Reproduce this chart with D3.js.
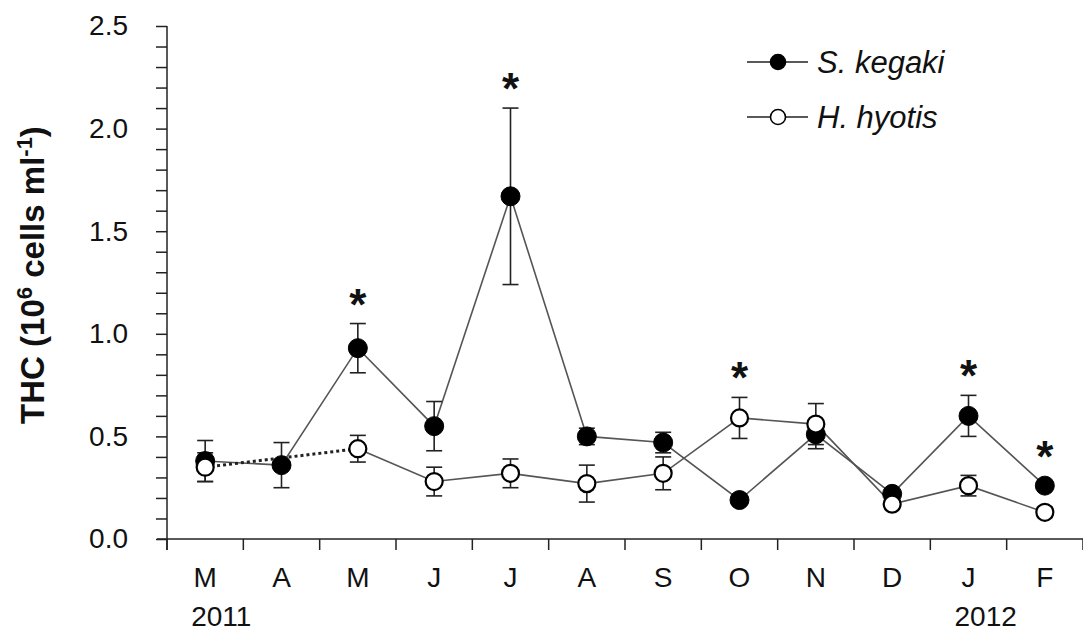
<!DOCTYPE html>
<html>
<head>
<meta charset="utf-8">
<script src="https://cdn.jsdelivr.net/npm/d3@7"></script>
<style>
  body { margin: 0; background: #fff; }
  svg { font-family: "Liberation Sans", Arial, sans-serif; }
</style>
</head>
<body>
<svg width="1083" height="634"></svg>
<script>
const months = ['Mar', 'Apr', 'May', 'Jun', 'Jul', 'Aug', 'Sep', 'Oct', 'Nov', 'Dec', 'Jan', 'Feb'];
const monthLabels = ['M', 'A', 'M', 'J', 'J', 'A', 'S', 'O', 'N', 'D', 'J', 'F'];
const kegaki = [0.38, 0.36, 0.93, 0.55, 1.67, 0.50, 0.47, 0.19, 0.51, 0.22, 0.60, 0.26];
const kegakiErr = [0.10, 0.11, 0.12, 0.12, 0.43, 0.04, 0.05, 0.02, 0.07, 0.02, 0.10, 0.02];
const hyotis = [0.35, null, 0.44, 0.28, 0.32, 0.27, 0.32, 0.59, 0.56, 0.17, 0.26, 0.13];
const hyotisErr = [0.07, null, 0.065, 0.07, 0.07, 0.09, 0.08, 0.10, 0.10, 0.02, 0.05, 0.025];
const significant = [false, false, true, false, true, false, false, true, false, false, true, true];
const years = [{ month: 'Mar', label: '2011' }, { month: 'Jan', label: '2012' }];
const yTicks = d3.range(0, 26).map(d => d / 10);

const svg = d3.select('svg');
const r = 9.5;

const x = d3.scaleBand()
    .domain(months)
    .range([167, 1083]);

const y = d3.scaleLinear()
    .domain([0, 2.5])
    .range([539, 26]);

const cx = i => x(months[i]) + x.bandwidth() / 2;

// axes
const xAxis = svg.append('g')
    .attr('transform', 'translate(0,539)')
    .call(d3.axisBottom(x).tickValues([]).tickSizeOuter(0));
xAxis.selectAll('.tick').remove();
xAxis.append('g').selectAll('line')
    .data(d3.range(months.length + 1))
    .enter().append('line')
    .attr('x1', i => 167 + i * x.bandwidth())
    .attr('x2', i => 167 + i * x.bandwidth())
    .attr('y1', 0).attr('y2', 11)
    .attr('stroke', '#222').attr('stroke-width', 1.5);
xAxis.append('g').selectAll('text')
    .data(months)
    .enter().append('text')
    .attr('x', d => x(d) + x.bandwidth() / 2)
    .attr('y', 48)
    .attr('text-anchor', 'middle')
    .attr('fill', '#111')
    .style('font-size', '28px')
    .text((d, i) => monthLabels[i]);
xAxis.append('g').selectAll('text')
    .data(years)
    .enter().append('text')
    .attr('x', d => x(d.month) + x.bandwidth() / 2 - 14)
    .attr('y', 87)
    .attr('text-anchor', 'start')
    .attr('fill', '#111')
    .style('font-size', '28px')
    .text(d => d.label);
xAxis.select('.domain').attr('stroke', '#222').attr('stroke-width', 1.5)
    .attr('d', 'M157,0H1083');

const yAxis = svg.append('g')
    .attr('transform', 'translate(167,0)')
    .call(d3.axisLeft(y)
        .tickValues(yTicks)
        .tickSize(11)
        .tickSizeOuter(0)
        .tickFormat(d => (Math.round(d * 10) % 5 === 0) ? d.toFixed(1) : ''));
yAxis.select('.domain').attr('stroke', '#222').attr('stroke-width', 1.5)
    .attr('d', 'M0,26V550');
yAxis.selectAll('.tick line').attr('stroke', '#222').attr('stroke-width', 1.5);
yAxis.selectAll('.tick text')
    .attr('x', -39)
    .attr('fill', '#111')
    .style('font-size', '28px')
    .style('font-family', '"Liberation Sans", Arial, sans-serif');

// y axis title
const title = svg.append('text')
    .attr('transform', 'translate(44,275) rotate(-90)')
    .attr('text-anchor', 'middle')
    .attr('fill', '#111')
    .style('font-size', '33px')
    .style('font-weight', 'bold');
title.append('tspan').text('THC (10');
title.append('tspan').attr('dy', -12).style('font-size', '22px').text('6');
title.append('tspan').attr('dy', 12).text(' cells ml');
title.append('tspan').attr('dy', -12).style('font-size', '22px').text('-1');
title.append('tspan').attr('dy', 12).text(')');

// lines
const pts = (vals) => vals.map((v, i) => ({ i, v }));
const line = d3.line()
    .defined(d => d.v !== null)
    .x(d => cx(d.i))
    .y(d => y(d.v));

svg.append('path')
    .datum(pts(kegaki))
    .attr('d', line)
    .attr('fill', 'none')
    .attr('stroke', '#555')
    .attr('stroke-width', 1.6);

svg.append('path')
    .datum(pts(hyotis))
    .attr('d', line)
    .attr('fill', 'none')
    .attr('stroke', '#555')
    .attr('stroke-width', 1.6);

// dotted bridge across missing values
const hPts = pts(hyotis);
const bridges = [];
hPts.forEach((d, i) => {
    if (d.v === null) {
        const a = hPts.slice(0, i).reverse().find(p => p.v !== null);
        const b = hPts.slice(i + 1).find(p => p.v !== null);
        if (a && b) bridges.push([a, b]);
    }
});
svg.selectAll('.bridge')
    .data(bridges)
    .enter().append('path')
    .attr('class', 'bridge')
    .attr('d', line)
    .attr('fill', 'none')
    .attr('stroke', '#222')
    .attr('stroke-width', 3)
    .attr('stroke-dasharray', '3,3');

// error bars
function errBars(vals, errs, cls) {
    const data = vals.map((v, i) => ({ i, v, e: errs[i] })).filter(d => d.v !== null);
    const g = svg.append('g').attr('class', cls);
    g.selectAll('.stem').data(data).enter().append('line')
        .attr('x1', d => cx(d.i)).attr('x2', d => cx(d.i))
        .attr('y1', d => y(d.v - d.e)).attr('y2', d => y(d.v + d.e))
        .attr('stroke', '#222').attr('stroke-width', 1.6);
    g.selectAll('.capT').data(data).enter().append('line')
        .attr('x1', d => cx(d.i) - 8).attr('x2', d => cx(d.i) + 8)
        .attr('y1', d => y(d.v + d.e)).attr('y2', d => y(d.v + d.e))
        .attr('stroke', '#222').attr('stroke-width', 1.6);
    g.selectAll('.capB').data(data).enter().append('line')
        .attr('x1', d => cx(d.i) - 8).attr('x2', d => cx(d.i) + 8)
        .attr('y1', d => y(d.v - d.e)).attr('y2', d => y(d.v - d.e))
        .attr('stroke', '#222').attr('stroke-width', 1.6);
}
errBars(kegaki, kegakiErr, 'err-k');
errBars(hyotis, hyotisErr, 'err-h');

// points
svg.selectAll('.pt-k')
    .data(pts(kegaki))
    .enter().append('circle')
    .attr('class', 'pt-k')
    .attr('cx', d => cx(d.i))
    .attr('cy', d => y(d.v))
    .attr('r', r)
    .attr('fill', '#000')
    .attr('stroke', '#000')
    .attr('stroke-width', 1);

svg.selectAll('.pt-h')
    .data(pts(hyotis).filter(d => d.v !== null))
    .enter().append('circle')
    .attr('class', 'pt-h')
    .attr('cx', d => cx(d.i))
    .attr('cy', d => y(d.v))
    .attr('r', r - 1)
    .attr('fill', '#fff')
    .attr('stroke', '#000')
    .attr('stroke-width', 2.2);

// significance asterisks
svg.selectAll('.star')
    .data(months.map((m, i) => i).filter(i => significant[i]))
    .enter().append('text')
    .attr('class', 'star')
    .attr('x', i => cx(i))
    .attr('y', i => {
        const tops = [y(kegaki[i] + kegakiErr[i]), y(kegaki[i]) - r];
        if (hyotis[i] !== null) tops.push(y(hyotis[i] + hyotisErr[i]), y(hyotis[i]) - r);
        return d3.min(tops) - 4;
    })
    .attr('text-anchor', 'middle')
    .attr('fill', '#111')
    .style('font-size', '44px')
    .style('font-weight', 'bold')
    .text('*');

// legend
const legend = [
    { name: 'S. kegaki', fill: '#000' },
    { name: 'H. hyotis', fill: '#fff' }
];
const lg = svg.append('g').selectAll('g')
    .data(legend)
    .enter().append('g')
    .attr('transform', (d, i) => `translate(747,${62 + i * 55})`);
lg.append('line')
    .attr('x1', 0).attr('x2', 61)
    .attr('stroke', '#222').attr('stroke-width', 1.6);
lg.append('circle')
    .attr('cx', 31).attr('r', 7.5)
    .attr('fill', d => d.fill)
    .attr('stroke', '#000').attr('stroke-width', 1.6);
lg.append('text')
    .attr('x', 70).attr('y', 11)
    .attr('fill', '#111')
    .style('font-size', '31px')
    .style('font-style', 'italic')
    .text(d => d.name);
</script>
</body>
</html>
